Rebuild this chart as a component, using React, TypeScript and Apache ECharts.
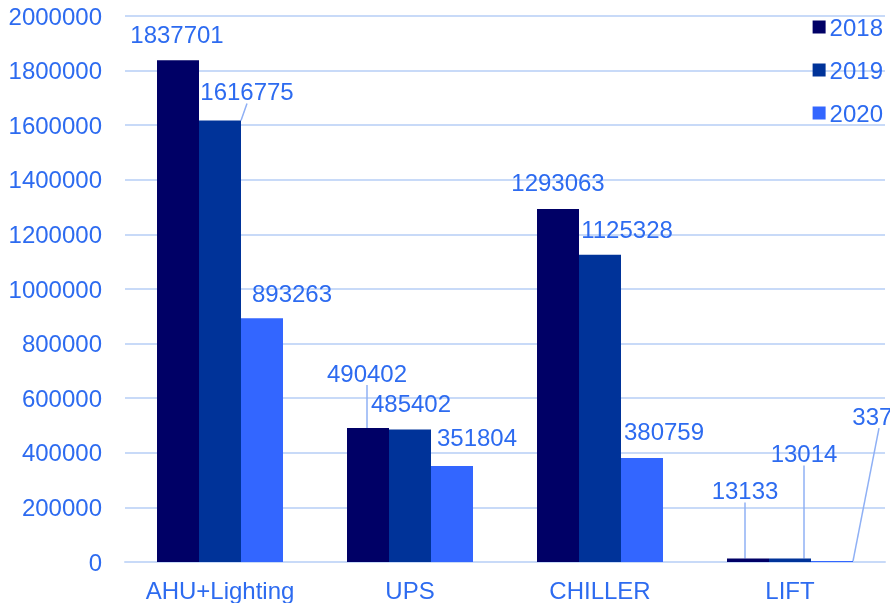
import React, { useEffect, useRef } from "react";
import * as echarts from "echarts";

const categories = ["AHU+Lighting", "UPS", "CHILLER", "LIFT"];
const seriesNames = ["2018", "2019", "2020"];
const values2018 = [1837701, 490402, 1293063, 13133];
const values2019 = [1616775, 485402, 1125328, 13014];
const values2020 = [893263, 351804, 380759, 3376];
const colors = ["#000066", "#003399", "#3366FF"];

// label offsets (dx, dy) per series per category
const labelOffsets = [
  [[-1, -9], [-1, -38], [0, -9], [-3, -51]],
  [[27, -12], [1, -9], [27, -8], [14, -88]],
  [[30, -8], [25, -11], [22, -10], [47, -128]],
];
// whether a leader line is drawn
const showLine = [
  [false, true, false, true],
  [true, false, false, true],
  [false, false, false, true],
];

const textColor = "#2d6bf0";
const gridColor = "#c8daf8";
const font = "'Liberation Sans', Arial, sans-serif";

export default function App() {
  const ref = useRef<HTMLDivElement>(null);
  useEffect(() => {
    if (!ref.current) return;
    const chart = echarts.init(ref.current, undefined, { renderer: "svg" });
    const all = [values2018, values2019, values2020];
    chart.setOption({
      animation: false,
      textStyle: { fontFamily: font },
      grid: { left: 125, right: 5, top: 16, bottom: 41 },
      legend: {
        orient: "vertical",
        right: 2,
        top: 10,
        itemWidth: 13,
        itemHeight: 13,
        itemGap: 19,
        icon: "rect",
        textStyle: { color: textColor, fontSize: 24, fontFamily: font, padding: [0, 0, 0, -1] },
        data: seriesNames,
      },
      xAxis: {
        type: "category",
        data: categories,
        axisLine: { lineStyle: { color: gridColor, width: 2 } },
        axisTick: { show: false },
        axisLabel: {
          color: textColor,
          fontSize: 24,
          fontFamily: font,
          margin: 16,
          interval: 0,
          hideOverlap: false,
        },
      },
      yAxis: {
        type: "value",
        min: 0,
        max: 2000000,
        interval: 200000,
        axisLine: { show: false },
        axisTick: { show: false },
        splitLine: { lineStyle: { color: gridColor, width: 2 } },
        axisLabel: {
          color: textColor,
          fontSize: 24,
          fontFamily: font,
          margin: 23,
          formatter: (v: number) => String(v),
        },
      },
      series: seriesNames.map((name, si) => ({
        name,
        type: "bar",
        barWidth: 42,
        barGap: "0%",
        itemStyle: { color: colors[si] },
        data: all[si].map((v, ci) => ({
          value: v,
          labelLine: { show: showLine[si][ci] },
        })),
        label: {
          show: true,
          position: "top",
          distance: 5,
          color: textColor,
          fontSize: 24,
          fontFamily: font,
        },
        labelLine: { show: true, lineStyle: { color: "#8fb0f5", width: 1.5 } },
        labelLayout: (p: any) => ({
          dx: labelOffsets[si][p.dataIndex][0],
          dy: labelOffsets[si][p.dataIndex][1],
        }),
      })),
    });
    return () => chart.dispose();
  }, []);
  return (
    <div
      ref={ref}
      style={{ position: "fixed", left: 0, top: 0, width: 890, height: 603 }}
    />
  );
}
